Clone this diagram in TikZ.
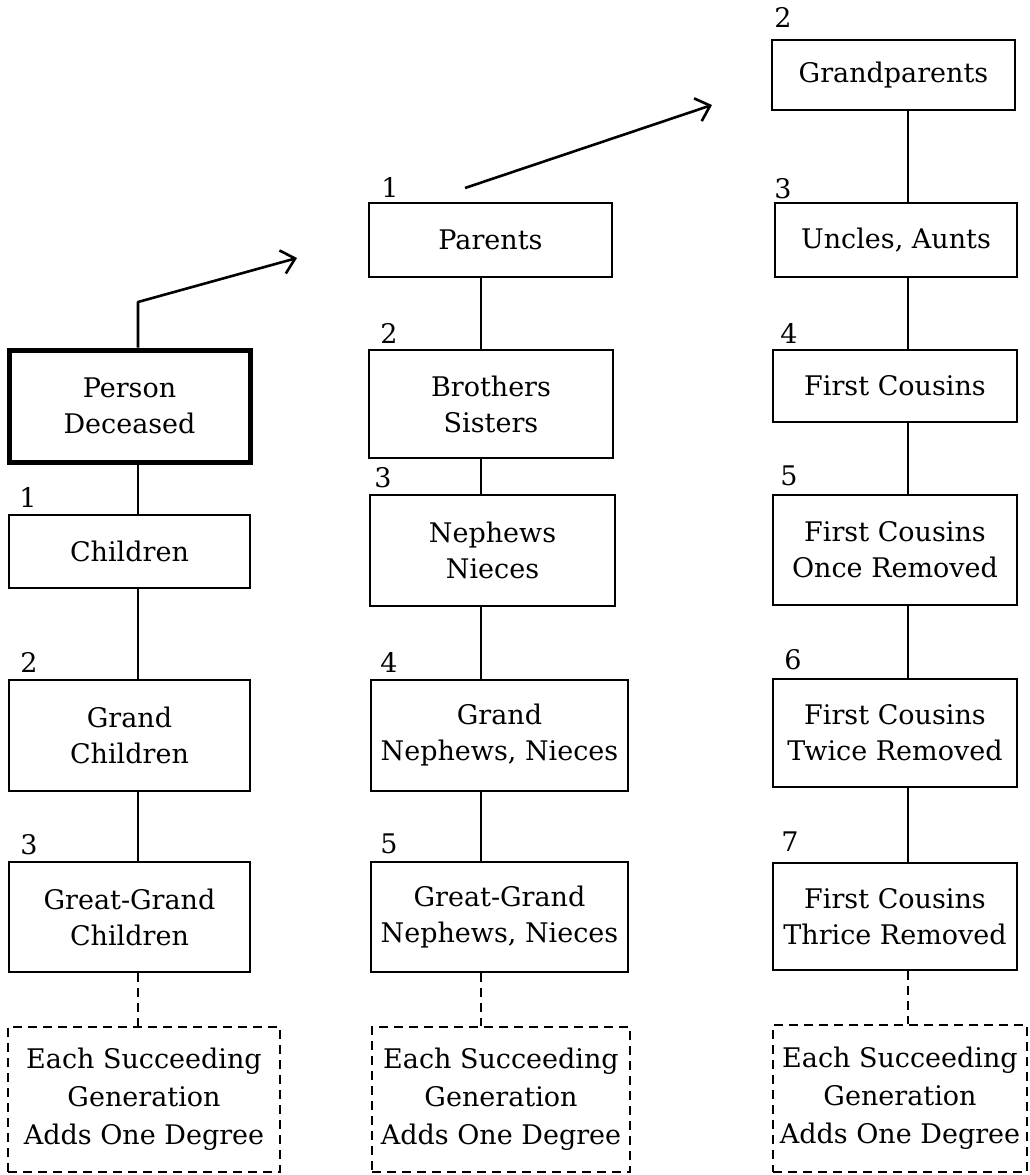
\documentclass[tikz,border=0pt]{standalone}
\usepackage{fontspec}
\setmainfont{DejaVu Serif}
\usetikzlibrary{arrows.meta}
\begin{document}
\begin{tikzpicture}[x=1pt,y=-1pt,
  box/.style={draw, line width=2.2pt, inner sep=0pt, align=center,
    font=\fontsize{27}{36}\selectfont},
  mainbox/.style={box, line width=5pt},
  dbox/.style={box, dash pattern=on 9pt off 6pt, font=\fontsize{27}{38}\selectfont},
  conn/.style={line width=2.2pt},
  dconn/.style={line width=2.2pt, dash pattern=on 9pt off 6pt},
  arr/.style={line width=2.6pt, line join=round, -{Straight Barb[length=13pt,width=24pt]}},
  num/.style={font=\fontsize{27}{30}\selectfont, inner sep=0pt},
]
\useasboundingbox (0,0) rectangle (1029,1175);
\fill[white] (0,0) rectangle (1029,1175);

% column axes
\coordinate (c1) at (138,0);
\coordinate (c2) at (481,0);
\coordinate (c3) at (908,0);

% column 1
\node[mainbox, minimum width=241pt, minimum height=112pt] (pd) at (129.5,406) {Person\\Deceased};
\node[box, minimum width=241pt, minimum height=73pt] (ch) at (129.5,551.5) {Children};
\node[box, minimum width=241pt, minimum height=111pt] (gc) at (129.5,735.5) {Grand\\Children};
\node[box, minimum width=241pt, minimum height=110pt] (ggc) at (129.5,917) {Great-Grand\\Children};
\node[dbox, minimum width=272pt, minimum height=145pt] (d1) at (144,1099.5) {Each Succeeding\\Generation\\Adds One Degree};

\node[num] (n11) at (28,497) {1};
\node[num] (n12) at (29,662) {2};
\node[num] (n13) at (29,845) {3};

% column 2
\node[box, minimum width=243pt, minimum height=74pt] (par) at (490.5,240) {Parents};
\node[box, minimum width=244pt, minimum height=108pt] (bro) at (491,404) {Brothers\\Sisters};
\node[box, minimum width=245pt, minimum height=111pt] (nep) at (492.5,550.5) {Nephews\\Nieces};
\node[box, minimum width=257pt, minimum height=111pt] (gn) at (499.5,735.5) {Grand\\Nephews, Nieces};
\node[box, minimum width=257pt, minimum height=110pt] (ggn) at (499.5,917) {Great-Grand\\Nephews, Nieces};
\node[dbox, minimum width=258pt, minimum height=145pt] (d2) at (501,1099.5) {Each Succeeding\\Generation\\Adds One Degree};

\node[num] (n21) at (390,187) {1};
\node[num] (n22) at (389,333) {2};
\node[num] (n23) at (383,478) {3};
\node[num] (n24) at (389,662) {4};
\node[num] (n25) at (389,844) {5};

% column 3
\node[box, minimum width=243pt, minimum height=70pt] (gp) at (893.5,75) {Grandparents};
\node[box, minimum width=242pt, minimum height=74pt] (ua) at (896,240) {Uncles, Aunts};
\node[box, minimum width=244pt, minimum height=72pt] (fc) at (895,386) {First Cousins};
\node[box, minimum width=244pt, minimum height=110pt] (fc1) at (895,550) {First Cousins\\Once Removed};
\node[box, minimum width=244pt, minimum height=108pt] (fc2) at (895,733) {First Cousins\\Twice Removed};
\node[box, minimum width=244pt, minimum height=107pt] (fc3) at (895,916.5) {First Cousins\\Thrice Removed};
\node[dbox, minimum width=254pt, minimum height=147pt] (d3) at (900,1098.5) {Each Succeeding\\Generation\\Adds One Degree};

\node[num] (n32) at (783,17) {2};
\node[num] (n33) at (783,189) {3};
\node[num] (n34) at (789,333) {4};
\node[num] (n35) at (789,476) {5};
\node[num] (n36) at (793,660) {6};
\node[num] (n37) at (790,842) {7};

% connectors column 1
\draw[conn] (pd.south -| c1) -- (ch.north -| c1);
\draw[conn] (ch.south -| c1) -- (gc.north -| c1);
\draw[conn] (gc.south -| c1) -- (ggc.north -| c1);
\draw[dconn] (ggc.south -| c1) -- (d1.north -| c1);

% connectors column 2
\draw[conn] (par.south -| c2) -- (bro.north -| c2);
\draw[conn] (bro.south -| c2) -- (nep.north -| c2);
\draw[conn] (nep.south -| c2) -- (gn.north -| c2);
\draw[conn] (gn.south -| c2) -- (ggn.north -| c2);
\draw[dconn] (ggn.south -| c2) -- (d2.north -| c2);

% connectors column 3
\draw[conn] (gp.south -| c3) -- (ua.north -| c3);
\draw[conn] (ua.south -| c3) -- (fc.north -| c3);
\draw[conn] (fc.south -| c3) -- (fc1.north -| c3);
\draw[conn] (fc1.south -| c3) -- (fc2.north -| c3);
\draw[conn] (fc2.south -| c3) -- (fc3.north -| c3);
\draw[dconn] (fc3.south -| c3) -- (d3.north -| c3);

% arrows
\coordinate (a1bend) at (138,302);
\coordinate (a1end) at (297,258);
\coordinate (a2start) at (465,188);
\coordinate (a2end) at (712,105);
\draw[arr] (pd.north -| c1) -- (a1bend) -- (a1end);
\draw[arr] (a2start) -- (a2end);
\end{tikzpicture}
\end{document}
